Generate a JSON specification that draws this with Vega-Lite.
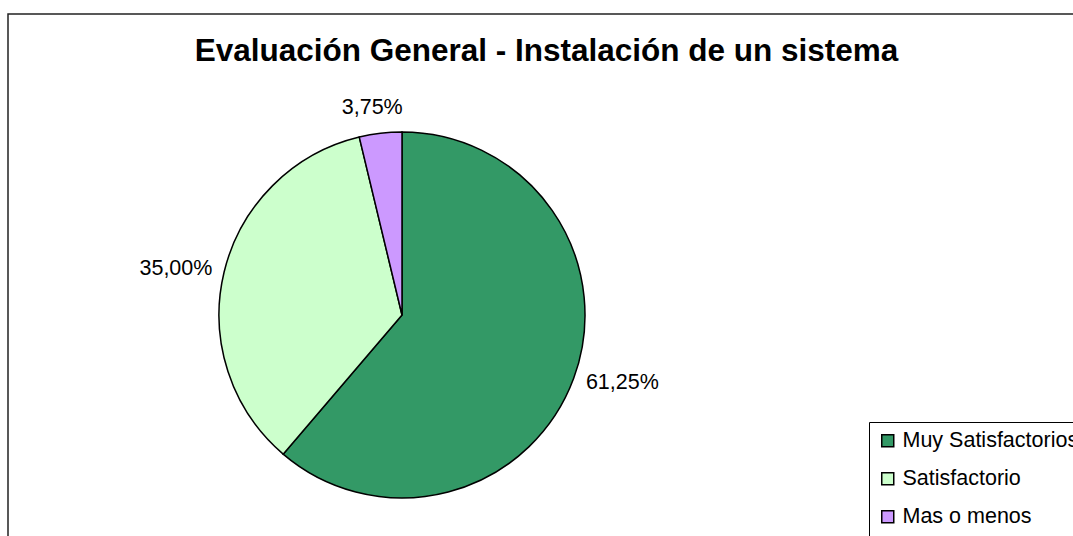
{
  "$schema": "https://vega.github.io/schema/vega-lite/v6.json",
  "width": 1065,
  "height": 522,
  "autosize": {"type": "none"},
  "padding": {"left": 8, "top": 14, "right": 0, "bottom": 0},
  "background": "white",
  "config": {
    "view": {"stroke": "#222222", "strokeWidth": 1.5},
    "font": "Liberation Sans"
  },
  "title": {
    "text": "Evaluación General - Instalación de un sistema",
    "font": "Liberation Sans",
    "fontSize": 31.5,
    "fontWeight": "bold",
    "color": "#000000",
    "anchor": "middle",
    "baseline": "alphabetic",
    "offset": -50,
    "dx": 6,
    "dy": 29
  },
  "data": {
    "values": [
      {"categoria": "Muy Satisfactorios", "valor": 0.6125, "orden": 1},
      {"categoria": "Satisfactorio", "valor": 0.35, "orden": 2},
      {"categoria": "Mas o menos", "valor": 0.0375, "orden": 3}
    ]
  },
  "transform": [
    {"window": [{"op": "sum", "field": "valor", "as": "acum"}], "sort": [{"field": "orden", "order": "ascending"}]},
    {"calculate": "datum.acum - datum.valor / 2", "as": "medio"},
    {"calculate": "replace(format(datum.valor, '.2%'), '.', ',')", "as": "etiqueta"}
  ],
  "layer": [
    {
      "data": {"values": [{"marco": 1}]},
      "transform": [],
      "mark": {"type": "rect", "x": 0, "y": 0, "x2": {"expr": "width + 10"}, "y2": {"expr": "height + 10"}, "fill": null, "stroke": "#222222", "strokeWidth": 1.5},
      "encoding": {}
    },
    {
      "mark": {"type": "arc", "x": 394, "y": 301, "outerRadius": 183, "stroke": "#000000", "strokeWidth": 1.5},
      "encoding": {
        "theta": {"field": "valor", "type": "quantitative", "stack": true, "scale": {"domain": [0, 1], "range": [0, 6.283185307]}},
        "order": {"field": "orden", "type": "quantitative"},
        "color": {
          "field": "categoria",
          "type": "nominal",
          "scale": {"domain": ["Muy Satisfactorios", "Satisfactorio", "Mas o menos"], "range": ["#339966", "#CCFFCC", "#CC99FF"]},
          "legend": {
            "title": null,
            "orient": "none",
            "legendX": 861,
            "legendY": 408,
            "strokeColor": "#000000",
            "fillColor": "white",
            "padding": 8,
            "symbolType": "square",
            "symbolSize": 144,
            "symbolStrokeColor": "#000000",
            "symbolStrokeWidth": 1.5,
            "labelFont": "Liberation Sans",
            "labelFontSize": 21.5,
            "labelColor": "#000000",
            "labelLimit": 500,
            "labelOffset": 4,
            "rowPadding": 15
          }
        }
      }
    },
    {
      "transform": [{"filter": "datum.orden == 1"}],
      "mark": {"type": "text", "x": 394, "y": 301, "radius": 196, "align": "left", "baseline": "middle", "fontSize": 21.5, "font": "Liberation Sans", "color": "#000000"},
      "encoding": {
        "theta": {"field": "medio", "type": "quantitative", "stack": false, "scale": {"domain": [0, 1], "range": [0, 6.283185307]}},
        "text": {"field": "etiqueta", "type": "nominal"}
      }
    },
    {
      "transform": [{"filter": "datum.orden == 2"}],
      "mark": {"type": "text", "x": 394, "y": 301, "radius": 195, "align": "right", "baseline": "middle", "fontSize": 21.5, "font": "Liberation Sans", "color": "#000000"},
      "encoding": {
        "theta": {"field": "medio", "type": "quantitative", "stack": false, "scale": {"domain": [0, 1], "range": [0, 6.283185307]}},
        "text": {"field": "etiqueta", "type": "nominal"}
      }
    },
    {
      "transform": [{"filter": "datum.orden == 3"}],
      "mark": {"type": "text", "x": 394, "y": 301, "radius": 202, "align": "center", "baseline": "alphabetic", "dx": -6, "fontSize": 21.5, "font": "Liberation Sans", "color": "#000000"},
      "encoding": {
        "theta": {"field": "medio", "type": "quantitative", "stack": false, "scale": {"domain": [0, 1], "range": [0, 6.283185307]}},
        "text": {"field": "etiqueta", "type": "nominal"}
      }
    }
  ]
}
